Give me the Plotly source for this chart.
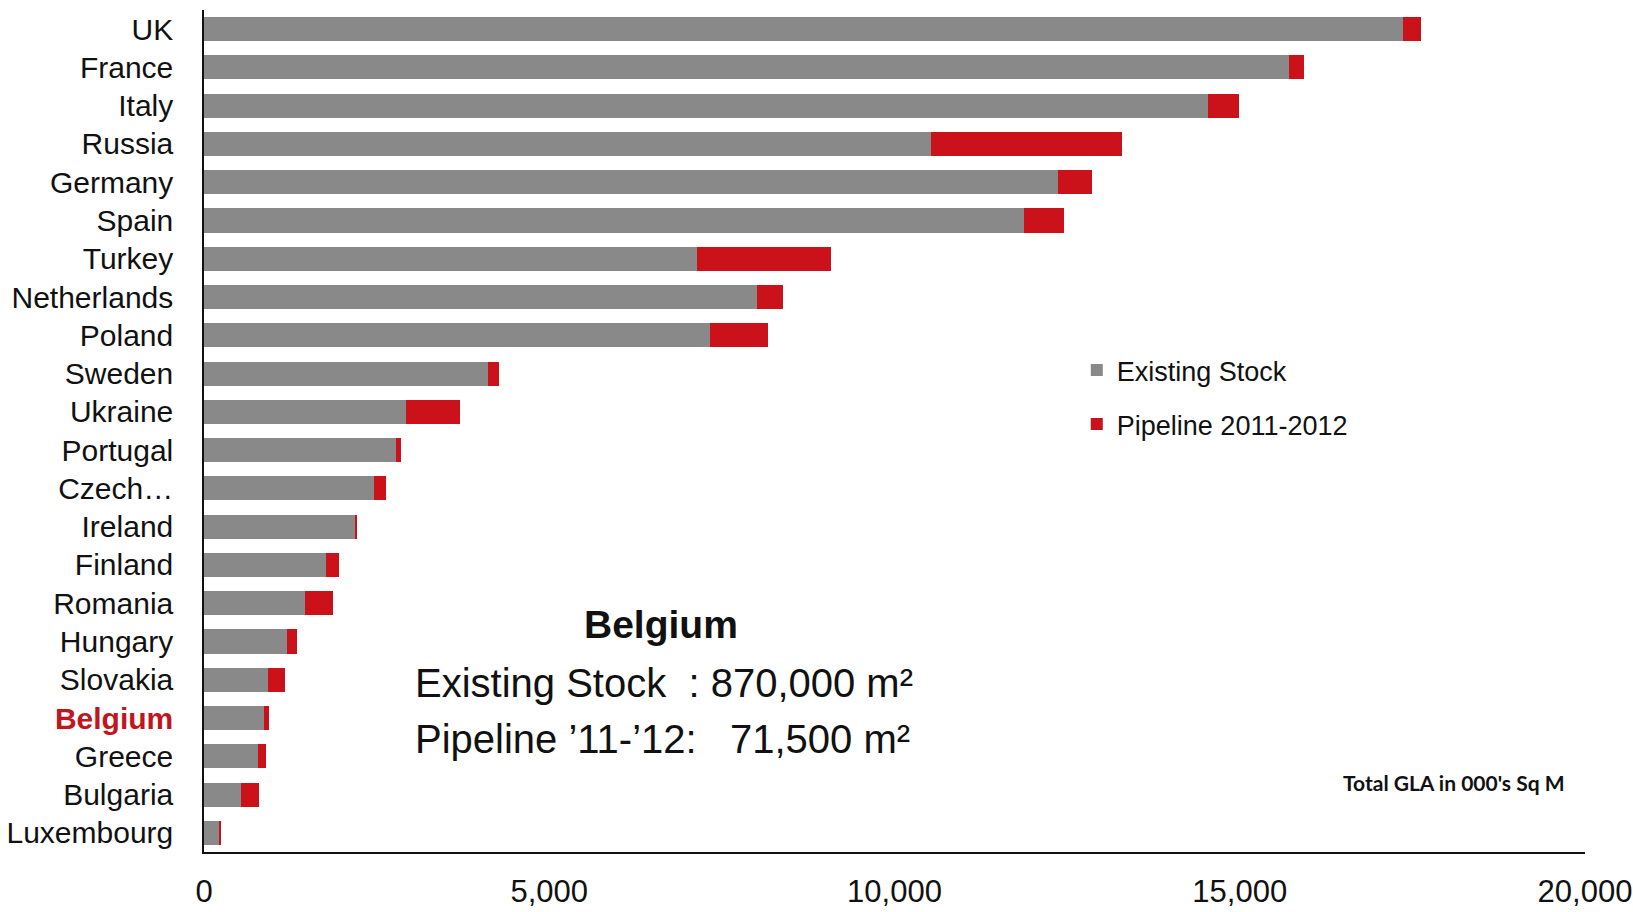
import plotly.graph_objects as go

countries = ["UK", "France", "Italy", "Russia", "Germany", "Spain", "Turkey", "Netherlands",
             "Poland", "Sweden", "Ukraine", "Portugal", "Czech Republic", "Ireland", "Finland",
             "Romania", "Hungary", "Slovakia", "Belgium", "Greece", "Bulgaria", "Luxembourg"]
tick_labels = ["UK", "France", "Italy", "Russia", "Germany", "Spain", "Turkey", "Netherlands",
               "Poland", "Sweden", "Ukraine", "Portugal", "Czech…", "Ireland", "Finland",
               "Romania", "Hungary", "Slovakia",
               "<b><span style='color:#C0161E'>Belgium</span></b>",
               "Greece", "Bulgaria", "Luxembourg"]
existing_stock = [17370, 15710, 14540, 10530, 12370, 11870, 7140, 8010,
                  7330, 4120, 2920, 2780, 2460, 2200, 1760,
                  1460, 1200, 930, 870, 780, 540, 230]
pipeline = [256, 226, 453, 2759, 483, 588, 1945, 377,
            844, 151, 785, 77, 176, 15, 193,
            415, 140, 246, 71.5, 121, 252, 8]
x_ticks = [0, 5000, 10000, 15000, 20000]
x_tick_labels = ["0", "5,000", "10,000", "15,000", "20,000"]

FONT = "Liberation Sans, Arial, sans-serif"
GREY = "#898989"
RED = "#CB121B"

fig = go.Figure()
fig.add_trace(go.Bar(y=countries, x=existing_stock, orientation="h", name="Existing Stock",
                     marker=dict(color=GREY, line=dict(width=0)), legendgroup="a"))
fig.add_trace(go.Bar(y=countries, x=pipeline, orientation="h", name="Pipeline 2011-2012",
                     marker=dict(color=RED, line=dict(width=0)), legendgroup="b"))

fig.update_layout(
    width=1633, height=912,
    barmode="stack", bargap=0.37,
    plot_bgcolor="white", paper_bgcolor="white",
    margin=dict(l=204, r=48, t=10, b=60, autoexpand=False),
    font=dict(family=FONT, color="#111111"),
    legend=dict(x=0.632, y=0.601, xanchor="left", yanchor="top",
                font=dict(family=FONT, size=27, color="#111111"),
                traceorder="grouped", tracegroupgap=16, itemwidth=30,
                bgcolor="rgba(0,0,0,0)"),
    xaxis=dict(range=[0, 20000], tickvals=x_ticks, ticktext=x_tick_labels,
               showgrid=False, zeroline=False, showline=True, linecolor="#111111",
               linewidth=1.5, ticks="", ticklabelstandoff=11, automargin=False,
               tickfont=dict(family=FONT, size=31, color="#111111")),
    yaxis=dict(autorange="reversed", tickvals=countries, ticktext=tick_labels,
               showgrid=False, zeroline=False, showline=True, linecolor="#111111",
               linewidth=1.5, ticks="", ticklabelstandoff=23, automargin=False,
               tickfont=dict(family=FONT, size=30, color="#111111")),
    annotations=[
        dict(text="<b>Belgium</b>", xref="paper", yref="paper", x=0.331, y=0.2696,
             xanchor="center", yanchor="middle", showarrow=False,
             font=dict(family=FONT, size=39, color="#111111")),
        dict(text="Existing Stock  : 870,000 m²", xref="paper", yref="paper", x=0.151, y=0.2007,
             xanchor="left", yanchor="middle", showarrow=False,
             font=dict(family=FONT, size=40, color="#111111")),
        dict(text="Pipeline ’11-’12:   71,500 m²", xref="paper", yref="paper", x=0.151, y=0.134,
             xanchor="left", yanchor="middle", showarrow=False,
             font=dict(family=FONT, size=40, color="#111111")),
        dict(text="<b>Total GLA in 000's Sq M</b>", xref="paper", yref="paper", x=0.905, y=0.082,
             xanchor="center", yanchor="middle", showarrow=False,
             font=dict(family="Lato, Open Sans, sans-serif", size=21, color="#111111")),
    ],
)

fig.write_html("out.html")
